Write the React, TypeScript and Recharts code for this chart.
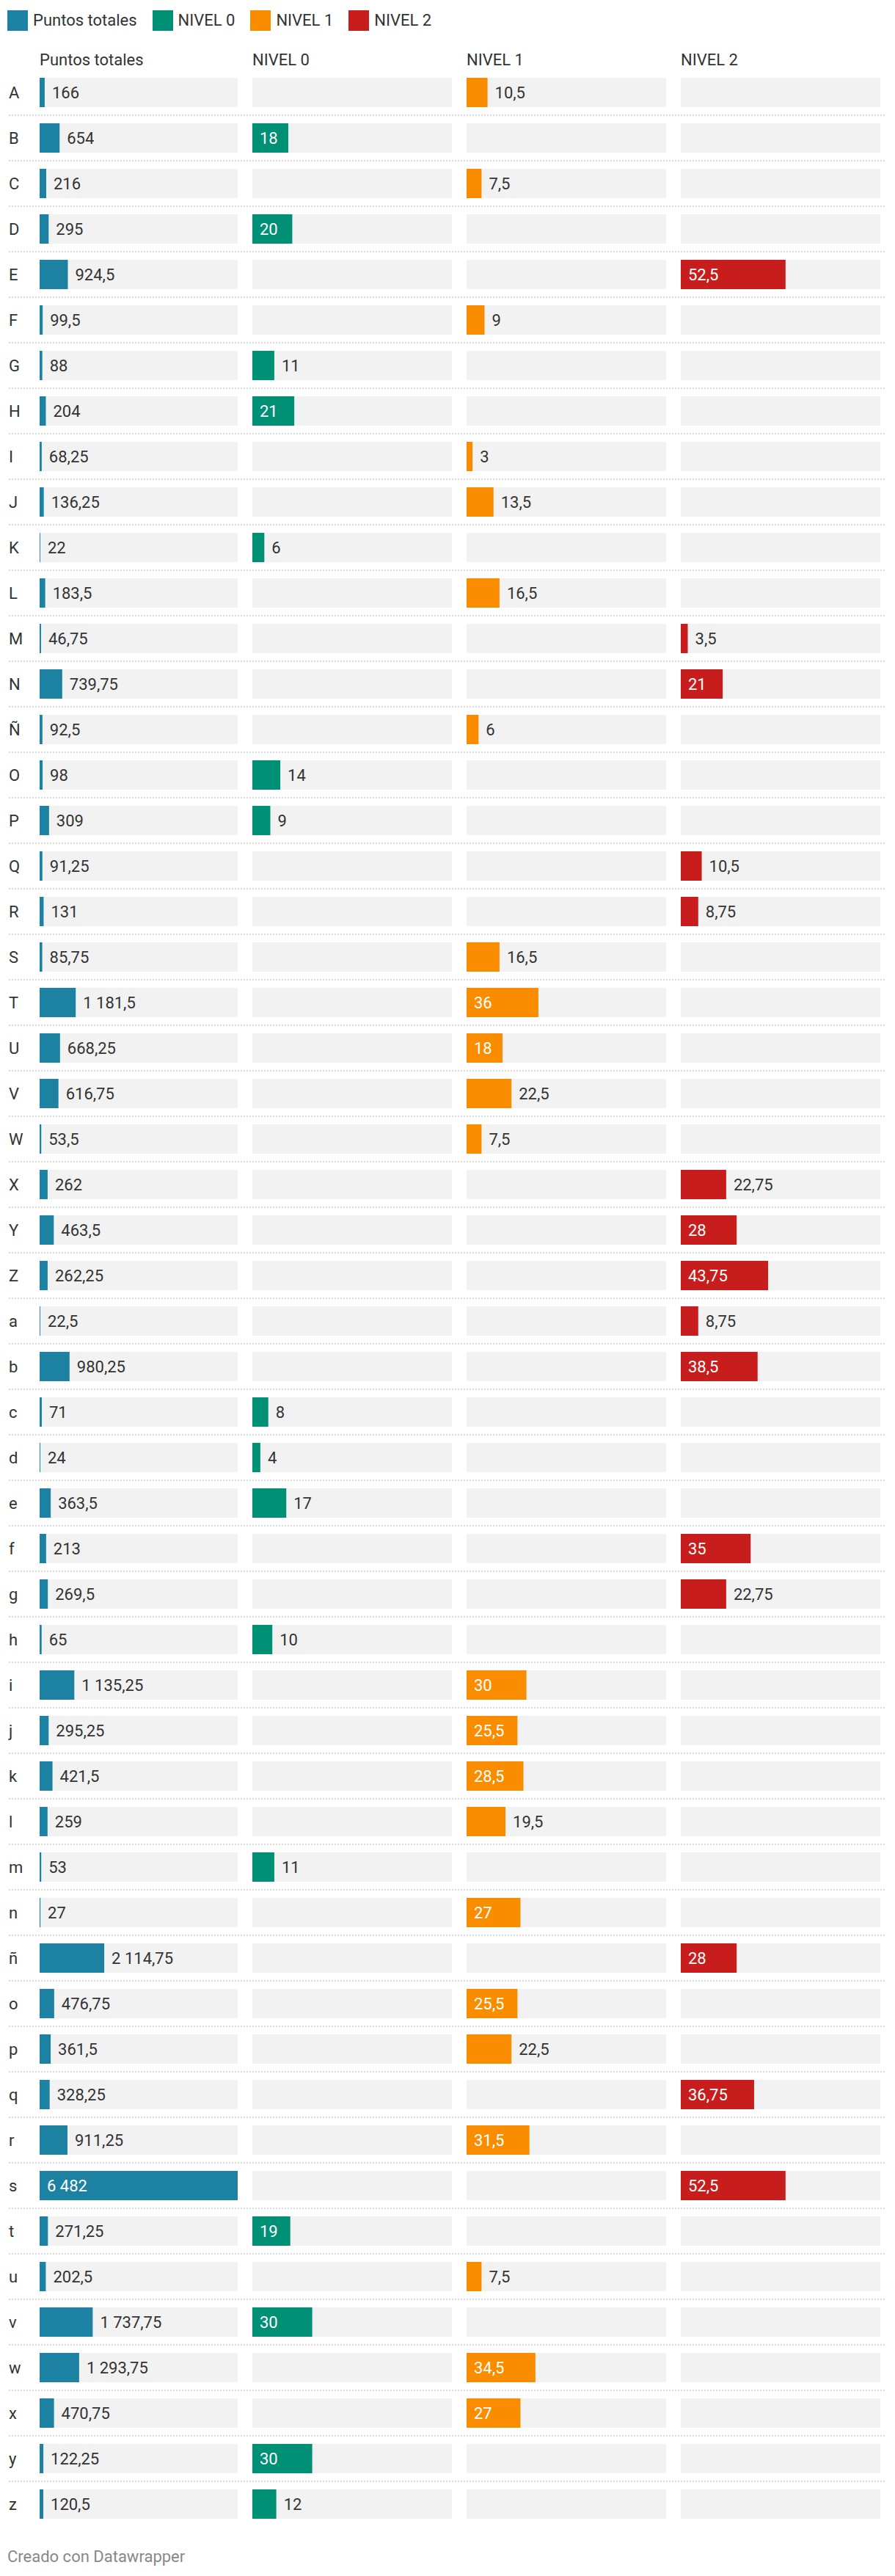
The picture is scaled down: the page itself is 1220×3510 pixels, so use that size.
import React from 'react';
import { BarChart, Bar, XAxis, YAxis, CartesianGrid, LabelList } from 'recharts';

const categories = [
  'A', 'B', 'C', 'D', 'E', 'F', 'G', 'H', 'I', 'J', 'K', 'L', 'M', 'N', 'Ñ', 'O', 'P', 'Q', 'R', 'S', 'T', 'U', 'V', 'W', 'X', 'Y', 'Z',
  'a', 'b', 'c', 'd', 'e', 'f', 'g', 'h', 'i', 'j', 'k', 'l', 'm', 'n', 'ñ', 'o', 'p', 'q', 'r', 's', 't', 'u', 'v', 'w', 'x', 'y', 'z',
];

const puntosTotales = [
  166, 654, 216, 295, 924.5, 99.5, 88, 204, 68.25, 136.25, 22, 183.5, 46.75, 739.75, 92.5, 98, 309, 91.25, 131, 85.75, 1181.5, 668.25, 616.75, 53.5, 262, 463.5, 262.25,
  22.5, 980.25, 71, 24, 363.5, 213, 269.5, 65, 1135.25, 295.25, 421.5, 259, 53, 27, 2114.75, 476.75, 361.5, 328.25, 911.25, 6482, 271.25, 202.5, 1737.75, 1293.75, 470.75, 122.25, 120.5,
];

const nivel0 = [
  null, 18, null, 20, null, null, 11, 21, null, null, 6, null, null, null, null, 14, 9, null, null, null, null, null, null, null, null, null, null,
  null, null, 8, 4, 17, null, null, 10, null, null, null, null, 11, null, null, null, null, null, null, null, 19, null, 30, null, null, 30, 12,
];

const nivel1 = [
  10.5, null, 7.5, null, null, 9, null, null, 3, 13.5, null, 16.5, null, null, 6, null, null, null, null, 16.5, 36, 18, 22.5, 7.5, null, null, null,
  null, null, null, null, null, null, null, null, 30, 25.5, 28.5, 19.5, null, 27, null, 25.5, 22.5, null, 31.5, null, null, 7.5, null, 34.5, 27, null, null,
];

const nivel2 = [
  null, null, null, null, 52.5, null, null, null, null, null, null, null, 3.5, 21, null, null, null, 10.5, 8.75, null, null, null, null, null, 22.75, 28, 43.75,
  8.75, 38.5, null, null, null, 35, 22.75, null, null, null, null, null, null, null, 28, null, null, 36.75, null, 52.5, null, null, null, null, null, null, null,
];

const seriesNames = ['Puntos totales', 'NIVEL 0', 'NIVEL 1', 'NIVEL 2'];
const seriesKeys = ['puntos', 'n0', 'n1', 'n2'];
const seriesColors = ['#1d81a2', '#009076', '#fa8c00', '#c71e1d'];
const seriesMax = [6482, 100, 100, 100];

const rows = categories.map((name, i) => ({
  name,
  puntos: puntosTotales[i],
  n0: nivel0[i],
  n1: nivel1[i],
  n2: nivel2[i],
}));

const FONT = 'Roboto, sans-serif';
const FS = 22;
const TEXT = '#333333';
const CHART_TOP = 95;
const CHART_H = rows.length * 62;

// "1 181,5" style
const formatValue = (v: number) => {
  const [i, d] = String(v).split('.');
  const int = i.replace(/\B(?=(\d{3})+(?!\d))/g, ' ');
  return d ? `${int},${d}` : int;
};

const textWidth = (s: string) =>
  [...s].reduce((w, c) => w + (c === ',' ? 0.197 : c === ' ' ? 0.248 : 0.562), 0) * FS;

const ValueLabel = (props: any) => {
  const { x, y, width, height, value } = props;
  if (value == null || !isFinite(width)) return null;
  const text = formatValue(value);
  const inside = width >= textWidth(text) + 23;
  return (
    <text
      x={inside ? x + 10 : x + width + 10}
      y={y + height / 2 + 8}
      fill={inside ? '#ffffff' : TEXT}
      fontSize={FS}
      fontFamily={FONT}
    >
      {text}
    </text>
  );
};

const RowTick = (props: any) => {
  const { y, payload } = props;
  return (
    <text x={12} y={y + 8} fill={TEXT} fontSize={FS} fontFamily={FONT}>
      {payload.value}
    </text>
  );
};

const separators = ({ offset }: any) => {
  const band = offset.height / rows.length;
  return rows.slice(1).map((_, i) => offset.top + band * (i + 1));
};

// left edge, chart width, plot left inset, right margin, grid start, grid width
const columns = [
  { left: 0, width: 344, inset: 54, right: 20, gx: 12, gw: 332 },
  { left: 344, width: 292, inset: 0, right: 20, gx: 0, gw: 292 },
  { left: 636, width: 292, inset: 0, right: 20, gx: 0, gw: 292 },
  { left: 928, width: 280, inset: 0, right: 8, gx: 0, gw: 280 },
];
const headerX = [54, 344, 636, 928];

const App: React.FC = () => {
  return (
    <div
      style={{
        position: 'absolute',
        top: 0,
        left: 0,
        width: 1220,
        height: 3510,
        background: '#ffffff',
        fontFamily: FONT,
        color: TEXT,
      }}
    >
      {/* legend */}
      <div style={{ position: 'absolute', top: 14, left: 10, display: 'flex', alignItems: 'center', height: 28 }}>
        {seriesNames.map((n, i) => (
          <div key={n} style={{ display: 'flex', alignItems: 'center', marginRight: 21 }}>
            <div style={{ width: 28, height: 28, background: seriesColors[i], marginRight: 7 }} />
            <span style={{ fontSize: FS, lineHeight: '28px', whiteSpace: 'nowrap' }}>{n}</span>
          </div>
        ))}
      </div>

      {/* column headers */}
      {seriesNames.map((n, i) => (
        <div
          key={n}
          style={{ position: 'absolute', top: 71, left: headerX[i], fontSize: FS, lineHeight: '22px', whiteSpace: 'nowrap' }}
        >
          {n}
        </div>
      ))}

      {columns.map((c, i) => {
        const key = seriesKeys[i];
        const max = seriesMax[i];
        return (
          <div key={key} style={{ position: 'absolute', top: CHART_TOP, left: c.left, width: c.width, height: CHART_H }}>
            {/* grey track + separators + row labels */}
            <div style={{ position: 'absolute', top: 0, left: 0 }}>
              <BarChart
                width={c.width}
                height={CHART_H}
                data={rows}
                layout="vertical"
                margin={{ top: 0, right: c.right, bottom: 0, left: i === 0 ? 0 : c.inset }}
              >
                <CartesianGrid
                  vertical={false}
                  x={c.gx}
                  width={c.gw}
                  stroke="#d9d9d9"
                  strokeWidth={2}
                  strokeDasharray="2 2"
                  horizontalCoordinatesGenerator={separators}
                />
                <XAxis type="number" hide domain={[0, max]} />
                <YAxis
                  type="category"
                  dataKey="name"
                  hide={i !== 0}
                  width={c.inset}
                  interval={0}
                  axisLine={false}
                  tickLine={false}
                  tick={<RowTick />}
                />
                <Bar dataKey={() => max} fill="#f2f2f2" barSize={40} isAnimationActive={false} />
              </BarChart>
            </div>
            {/* values */}
            <div style={{ position: 'absolute', top: 0, left: 0 }}>
              <BarChart
                width={c.width}
                height={CHART_H}
                data={rows}
                layout="vertical"
                margin={{ top: 0, right: c.right, bottom: 0, left: c.inset }}
              >
                <XAxis type="number" hide domain={[0, max]} />
                <YAxis type="category" dataKey="name" hide />
                <Bar dataKey={key} fill={seriesColors[i]} barSize={40} isAnimationActive={false}>
                  <LabelList dataKey={key} content={<ValueLabel />} />
                </Bar>
              </BarChart>
            </div>
          </div>
        );
      })}

      <div
        style={{ position: 'absolute', top: 3473, left: 10, fontSize: FS, lineHeight: '22px', color: '#888888', whiteSpace: 'nowrap' }}
      >
        Creado con Datawrapper
      </div>
    </div>
  );
};

export default App;
